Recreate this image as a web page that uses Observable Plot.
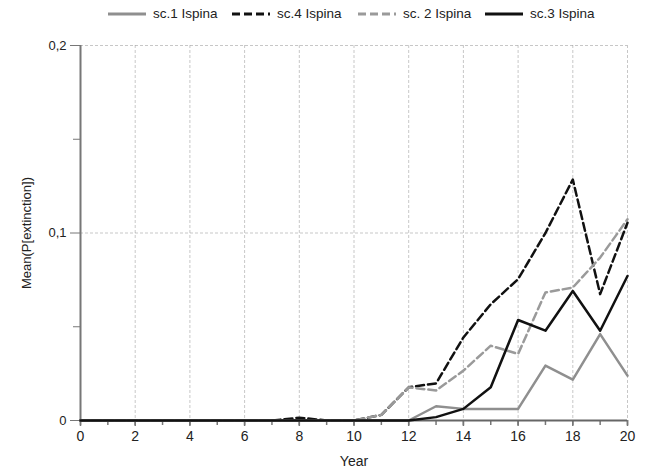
<!DOCTYPE html>
<html>
<head>
<meta charset="utf-8">
<script src="https://cdn.jsdelivr.net/npm/d3@7"></script>
<script src="https://cdn.jsdelivr.net/npm/@observablehq/plot@0.6"></script>
<style>
  html, body { margin: 0; padding: 0; background: #fff; }
  body { width: 645px; height: 473px; overflow: hidden; font-family: "Liberation Sans", Arial, sans-serif; }
  #legend { position: relative; height: 28px; font-size: 13.5px; color: #222; }
  .item { position: absolute; top: 6px; display: flex; align-items: center; white-space: nowrap; }
  .item svg { margin-right: 7px; }
</style>
</head>
<body>
<div id="legend"></div>
<div id="chart"></div>
<script>
const years = d3.range(0, 21);
const seriesNames = ["sc.1 Ispina", "sc.4 Ispina", "sc. 2 Ispina", "sc.3 Ispina"];
const sc1 = [0,0,0,0,0,0,0,0,0,0,0,0,0,0.0076,0.0062,0.0062,0.0062,0.0293,0.0218,0.0461,0.0239];
const sc4 = [0,0,0,0,0,0,0,0,0.0015,0,0,0.003,0.0177,0.0198,0.0443,0.062,0.0754,0.100,0.1285,0.0674,0.1055];
const sc2 = [0,0,0,0,0,0,0,0,0,0,0,0.003,0.0177,0.016,0.0266,0.0399,0.0355,0.0683,0.0709,0.0869,0.1073];
const sc3 = [0,0,0,0,0,0,0,0,0,0,0,0,0,0.0018,0.0062,0.0177,0.0536,0.0479,0.0691,0.0479,0.0771];
const xMajorTicks = [0,2,4,6,8,10,12,14,16,18,20];
const yMajorTicks = [0, 0.1, 0.2];
const yMinorTicks = [0.05, 0.15];

const styles = [
  {name: seriesNames[0], values: sc1, stroke: "#8f8f8f", dash: null, left: 108},
  {name: seriesNames[1], values: sc4, stroke: "#111", dash: "8,4", left: 232},
  {name: seriesNames[2], values: sc2, stroke: "#9a9a9a", dash: "8,4", left: 358},
  {name: seriesNames[3], values: sc3, stroke: "#111", dash: null, left: 485}
];

const legend = document.getElementById("legend");
for (const s of styles) {
  const d = document.createElement("div");
  d.className = "item";
  d.style.left = s.left + "px";
  d.innerHTML = `<svg width="38" height="6"><line x1="0" y1="3" x2="38" y2="3" stroke="${s.stroke}" stroke-width="3" ${s.dash ? `stroke-dasharray="${s.dash}"` : ""}/></svg><span>${s.name}</span>`;
  legend.appendChild(d);
}

const fmt = d => d === 0 ? "0" : d.toFixed(1).replace(".", ",");
const rows = s => years.map((y, i) => ({year: y, value: s.values[i]}));
const order = [1, 2, 0, 3];

const chart = Plot.plot({
  width: 645,
  height: 445,
  marginLeft: 80,
  marginRight: 18,
  marginTop: 17,
  marginBottom: 53,
  style: {fontFamily: "Liberation Sans, Arial, sans-serif", fontSize: "14px", color: "#222"},
  x: {domain: [0, 20]},
  y: {domain: [0, 0.2]},
  marks: [
    Plot.gridX(xMajorTicks.filter(d => d > 0), {stroke: "#999", strokeOpacity: 0.55, strokeDasharray: "3,2"}),
    Plot.gridY(yMajorTicks.filter(d => d > 0), {stroke: "#999", strokeOpacity: 0.55, strokeDasharray: "3,2"}),
    Plot.axisX({ticks: years, tickSize: 5, tickFormat: () => "", stroke: "#777", strokeWidth: 1.5, label: null}),
    Plot.axisX({ticks: xMajorTicks, tickSize: 6, tickPadding: 5, tickFormat: d => String(d), stroke: "#777", strokeWidth: 1.5, label: "Year", labelAnchor: "center", labelArrow: "none", labelOffset: 45, fontSize: 14}),
    Plot.axisY({ticks: yMinorTicks, tickSize: 7, tickFormat: () => "", stroke: "#777", label: null}),
    Plot.axisY({ticks: yMajorTicks, tickSize: 10, tickPadding: 4, tickFormat: fmt, stroke: "#777", label: "Mean(P[extinction])", labelAnchor: "center", labelArrow: "none", labelOffset: 59, fontSize: 13}),
    Plot.ruleX([0], {stroke: "#777", strokeWidth: 2}),
    Plot.ruleY([0], {stroke: "#666", strokeWidth: 2}),
    ...order.map(k => Plot.line(rows(styles[k]), {x: "year", y: "value", stroke: styles[k].stroke, strokeWidth: 2.5, strokeDasharray: styles[k].dash ?? undefined}))
  ]
});
document.getElementById("chart").appendChild(chart);
</script>
</body>
</html>
